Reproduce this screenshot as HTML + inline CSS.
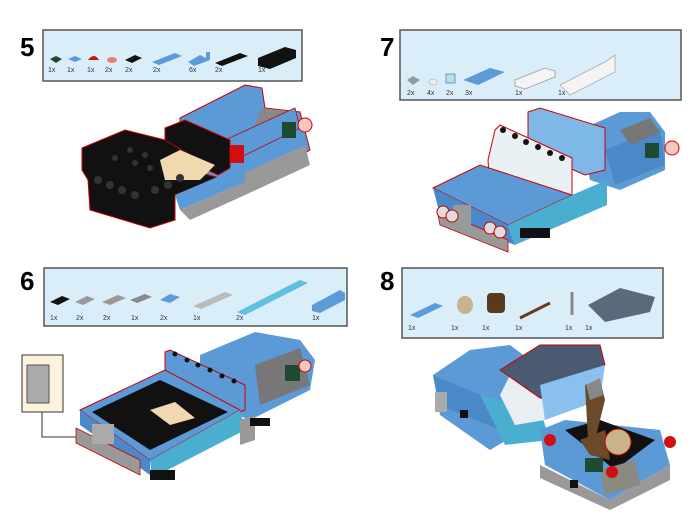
<!DOCTYPE html>
<html><head><style>
html,body{margin:0;padding:0;background:#fff;width:700px;height:525px;overflow:hidden}
svg{display:block}
text{font-family:"Liberation Sans",sans-serif}
.n{font-size:26px;font-weight:bold;fill:#000}
.q{font-size:7px;fill:#333}
.box{fill:#daeefa;stroke:#555;stroke-width:1.5}
</style></head><body>
<svg width="700" height="525" viewBox="0 0 700 525">
<!-- STEP 5 -->
<text class="n" x="20" y="56">5</text>
<rect class="box" x="43" y="30" width="259" height="51"/>
<g>
<polygon points="50,59 56,56 62,59 56,63" fill="#1e4a33"/>
<polygon points="68,59 75,56 82,59 75,62" fill="#5a9bd8"/>
<path d="M88,60 q6,-8 11,0 z" fill="#d01010"/>
<ellipse cx="112" cy="60" rx="5" ry="3" fill="#e88070"/>
<polygon points="125,60 135,55 142,58 132,63" fill="#111"/>
<polygon points="152,62 175,53 182,56 159,65" fill="#5a9bd8"/>
<polygon points="188,62 200,55 206,58 206,52 210,52 210,60 194,66" fill="#5a9bd8"/>
<polygon points="215,63 240,53 248,56 222,66" fill="#111"/>
<polygon points="258,58 285,47 296,50 296,58 270,69 258,66" fill="#111"/>
</g>
<text class="q" x="48" y="72">1x</text><text class="q" x="67" y="72">1x</text><text class="q" x="87" y="72">1x</text><text class="q" x="105" y="72">2x</text><text class="q" x="125" y="72">2x</text><text class="q" x="153" y="72">2x</text><text class="q" x="189" y="72">6x</text><text class="q" x="215" y="72">2x</text><text class="q" x="258" y="72">1x</text>
<!-- car 5 -->
<polygon points="180,118 245,85 262,88 265,108 300,112 310,150 240,190 180,170" fill="#5b9ad6" stroke="#c00" stroke-width="1"/>
<polygon points="262,108 298,112 285,130 255,125" fill="#888"/>
<polygon points="240,175 305,145 310,165 245,195" fill="#999"/>
<polygon points="225,140 295,108 300,128 235,160" fill="#5b9ad6" stroke="#c00" stroke-width=".8"/>
<polygon points="165,128 185,120 230,140 230,168 218,175 165,150" fill="#111" stroke="#c00" stroke-width="1"/>
<polygon points="82,148 125,130 165,140 190,155 190,170 220,178 175,195 175,220 150,228 90,210 88,180 82,170" fill="#111" stroke="#c00" stroke-width="1"/>
<polygon points="160,160 180,150 215,165 200,180 165,180" fill="#f0d9b0"/>
<polygon points="175,195 245,165 245,182 180,210" fill="#5b9ad6"/>
<polygon points="180,210 245,182 245,195 190,220" fill="#999"/>
<rect x="230" y="145" width="14" height="18" fill="#d01010"/>
<rect x="282" y="122" width="14" height="16" fill="#1e4a33"/>
<circle cx="305" cy="125" r="7" fill="#f4c8c0" stroke="#c00"/>
<g fill="#333"><circle cx="98" cy="180" r="4"/><circle cx="110" cy="185" r="4"/><circle cx="122" cy="190" r="4"/><circle cx="135" cy="195" r="4"/><circle cx="155" cy="190" r="4"/><circle cx="168" cy="185" r="4"/><circle cx="180" cy="178" r="4"/>
<circle cx="130" cy="150" r="3"/><circle cx="145" cy="155" r="3"/><circle cx="115" cy="158" r="3"/><circle cx="135" cy="163" r="3"/><circle cx="150" cy="168" r="3"/></g>
<!-- STEP 7 -->
<text class="n" x="380" y="56">7</text>
<rect class="box" x="400" y="30" width="281" height="70"/>
<polygon points="407,80 413,76 420,80 413,85" fill="#999"/>
<ellipse cx="433" cy="82" rx="4" ry="3" fill="#eee" stroke="#999" stroke-width=".5"/>
<rect x="446" y="74" width="9" height="9" fill="#bde" stroke="#58a" stroke-width=".8"/>
<polygon points="463,80 490,68 505,72 478,85" fill="#5a9bd8"/>
<polygon points="515,80 545,68 555,71 555,77 525,89 515,86" fill="#f4f4f4" stroke="#999" stroke-width=".8"/>
<polygon points="560,85 605,62 615,55 615,72 570,95" fill="#f4f4f4" stroke="#aaa" stroke-width=".8"/>
<text class="q" x="407" y="95">2x</text><text class="q" x="427" y="95">4x</text><text class="q" x="446" y="95">2x</text><text class="q" x="465" y="95">3x</text><text class="q" x="515" y="95">1x</text><text class="q" x="558" y="95">1x</text>
<!-- car 7 -->
<polygon points="580,130 620,112 650,112 665,132 665,170 620,190 590,180" fill="#5b9ad6"/>
<polygon points="605,150 660,128 665,165 615,185" fill="#4a88c8"/>
<polygon points="620,130 650,118 660,132 630,145" fill="#777"/>
<circle cx="672" cy="148" r="7" fill="#f4c8c0" stroke="#c00"/>
<rect x="645" y="143" width="14" height="15" fill="#1e4a33"/>
<polygon points="528,112 540,108 605,128 605,170 585,175 528,150" fill="#7fb8e8" stroke="#c00" stroke-width="1"/>
<polygon points="495,130 500,125 572,158 572,195 545,205 490,190 488,160" fill="#eaf1f5" stroke="#c00" stroke-width="1"/>
<g fill="#111"><circle cx="503" cy="130" r="3"/><circle cx="515" cy="136" r="3"/><circle cx="526" cy="142" r="3"/><circle cx="538" cy="147" r="3"/><circle cx="550" cy="153" r="3"/><circle cx="562" cy="158" r="3"/></g>
<polygon points="433,188 480,165 572,195 508,225" fill="#5b9ad6" stroke="#c00" stroke-width="1"/>
<polygon points="508,225 572,195 607,180 607,205 515,245" fill="#4aaed0"/>
<polygon points="433,188 508,225 515,245 440,215" fill="#4a88c8"/>
<polygon points="437,210 508,240 508,252 440,225" fill="#999" stroke="#c00" stroke-width=".8"/>
<rect x="453" y="205" width="18" height="20" fill="#999"/>
<circle cx="443" cy="212" r="6" fill="#ddd" stroke="#c00"/><circle cx="452" cy="216" r="6" fill="#ddd" stroke="#c00"/>
<circle cx="490" cy="228" r="6" fill="#ddd" stroke="#c00"/><circle cx="500" cy="232" r="6" fill="#ddd" stroke="#c00"/>
<rect x="520" y="228" width="30" height="10" fill="#111"/>
<!-- STEP 6 -->
<text class="n" x="20" y="290">6</text>
<rect class="box" x="44" y="268" width="303" height="58"/>
<polygon points="50,302 62,296 70,299 58,305" fill="#111"/>
<polygon points="75,302 87,296 95,299 83,305" fill="#999"/>
<polygon points="102,302 118,295 126,298 110,305" fill="#999"/>
<polygon points="130,300 145,294 152,297 137,303" fill="#888"/>
<polygon points="160,300 170,294 180,297 170,303" fill="#5a9bd8"/>
<polygon points="193,306 225,292 233,295 201,309" fill="#bbb"/>
<polygon points="237,312 300,280 308,283 245,315" fill="#5cc0e0"/>
<polygon points="312,305 340,290 345,293 345,300 320,313 312,311" fill="#5a9bd8"/>
<text class="q" x="50" y="320">1x</text><text class="q" x="76" y="320">2x</text><text class="q" x="103" y="320">2x</text><text class="q" x="131" y="320">1x</text><text class="q" x="160" y="320">2x</text><text class="q" x="193" y="320">1x</text><text class="q" x="236" y="320">2x</text><text class="q" x="312" y="320">1x</text>
<rect x="22" y="355" width="41" height="57" fill="#fdf3dc" stroke="#333"/>
<rect x="27" y="365" width="22" height="38" fill="#aaa" stroke="#555"/>
<polyline points="42,412 42,437 100,437" fill="none" stroke="#333"/>
<!-- car 6 -->
<polygon points="200,355 255,332 300,340 315,360 310,390 250,420 200,400" fill="#5b9ad6"/>
<polygon points="255,365 300,348 310,385 260,405" fill="#777"/>
<rect x="285" y="365" width="15" height="16" fill="#1e4a33"/>
<circle cx="305" cy="366" r="6" fill="#f4c8c0" stroke="#c00"/>
<polygon points="165,352 170,350 245,385 245,410 240,412 165,378" fill="#5b9ad6" stroke="#c00" stroke-width="1"/>
<g fill="#111"><circle cx="175" cy="354" r="2.5"/><circle cx="187" cy="360" r="2.5"/><circle cx="198" cy="365" r="2.5"/><circle cx="210" cy="370" r="2.5"/><circle cx="222" cy="376" r="2.5"/><circle cx="234" cy="381" r="2.5"/></g>
<polygon points="80,410 165,370 240,410 150,460" fill="#5b9ad6" stroke="#c00" stroke-width="1"/>
<polygon points="92,412 160,380 228,412 150,450" fill="#111"/>
<polygon points="150,410 175,402 195,418 170,425" fill="#f0d9b0"/>
<polygon points="80,410 150,460 150,475 80,425" fill="#4a88c8"/>
<polygon points="150,460 240,410 245,430 152,478" fill="#4aaed0"/>
<polygon points="76,428 140,460 140,475 76,443" fill="#999" stroke="#c00" stroke-width=".8"/>
<polygon points="240,420 255,415 255,440 240,445" fill="#999"/>
<rect x="92" y="424" width="22" height="20" fill="#aaa"/>
<rect x="150" y="470" width="25" height="10" fill="#111"/>
<rect x="250" y="418" width="20" height="8" fill="#111"/>
<!-- STEP 8 -->
<text class="n" x="380" y="290">8</text>
<rect class="box" x="402" y="268" width="261" height="70"/>
<polygon points="410,315 435,303 443,306 418,318" fill="#5a9bd8"/>
<ellipse cx="465" cy="305" rx="8" ry="9" fill="#c8b48a"/>
<rect x="487" y="293" width="18" height="20" rx="4" fill="#5a3a1e"/>
<line x1="520" y1="318" x2="550" y2="303" stroke="#6b3a20" stroke-width="3"/>
<line x1="572" y1="315" x2="572" y2="292" stroke="#888" stroke-width="3"/>
<polygon points="588,305 620,288 655,297 650,312 605,322" fill="#5a6a7d"/>
<text class="q" x="408" y="330">1x</text><text class="q" x="451" y="330">1x</text><text class="q" x="482" y="330">1x</text><text class="q" x="515" y="330">1x</text><text class="q" x="565" y="330">1x</text><text class="q" x="585" y="330">1x</text>
<!-- car 8 -->
<polygon points="433,375 470,350 510,345 530,360 550,375 540,420 490,450 440,415" fill="#5b9ad6"/>
<polygon points="433,375 480,395 500,430 440,405" fill="#4a88c8"/>
<polygon points="480,395 540,410 550,440 505,445" fill="#4aaed0"/>
<rect x="435" y="392" width="12" height="20" fill="#aaa"/>
<polygon points="500,395 510,375 545,390 545,420 515,425" fill="#e8eef2"/>
<polygon points="500,370 540,345 600,345 605,365 560,400 540,398" fill="#4a5a70" stroke="#c00" stroke-width="1"/>
<polygon points="540,385 605,365 600,400 545,420" fill="#8ac0ee"/>
<polygon points="540,430 565,420 660,430 670,465 610,500 545,465" fill="#5b9ad6"/>
<polygon points="565,430 600,420 655,440 615,470" fill="#111"/>
<polygon points="580,440 605,430 610,460 590,455" fill="#6b4a2a"/>
<ellipse cx="618" cy="442" rx="13" ry="13" fill="#c8b48a" stroke="#c00"/>
<polygon points="585,385 600,380 605,400 595,440 588,440" fill="#6b4a2a"/>
<polygon points="586,385 600,378 603,395 590,400" fill="#888"/>
<polygon points="540,465 610,500 670,465 670,480 610,510 540,478" fill="#999"/>
<polygon points="600,470 635,460 640,485 605,495" fill="#8a8a7e"/>
<rect x="585" y="458" width="18" height="14" fill="#1e4a33"/>
<circle cx="550" cy="440" r="6" fill="#d01010"/><circle cx="670" cy="442" r="6" fill="#d01010"/><circle cx="612" cy="472" r="6" fill="#d01010"/>
<rect x="460" y="410" width="8" height="8" fill="#111"/><rect x="570" y="480" width="8" height="8" fill="#111"/>
</svg>
</body></html>
